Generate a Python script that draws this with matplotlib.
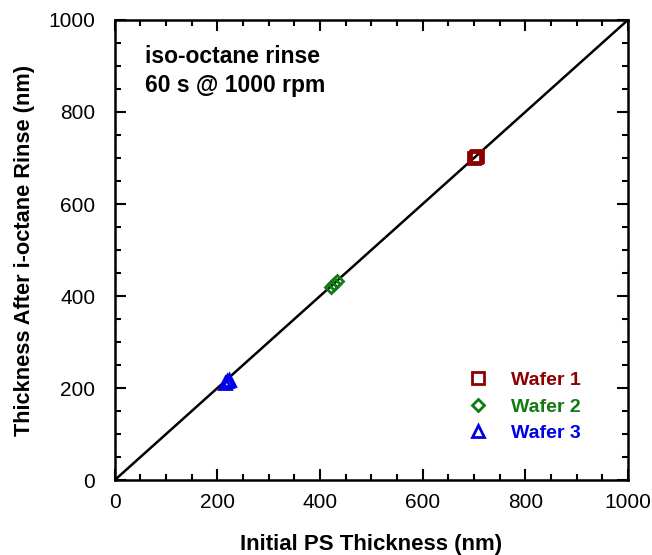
import numpy as np
import matplotlib.pyplot as plt
from matplotlib.ticker import MultipleLocator

plt.rcParams['font.family'] = ['Liberation Sans', 'DejaVu Sans']

# film thickness before / after rinse (nm)
w1_before = [700, 704, 706]
w1_after = [701, 703, 705]
w2_before = [422, 428, 434]
w2_after = [420, 427, 433]
w3_before = [215, 219, 222]
w3_after = [212, 215, 218]

fig = plt.figure(figsize=(6.52, 5.55), dpi=100)
ax = fig.add_axes([0.176, 0.135, 0.787, 0.829])

ax.plot([0, 1000], [0, 1000], color='black', lw=1.8, zorder=1)

ax.plot(w1_before, w1_after, 's', ms=8, mfc='none', mec='#8b0000', mew=2,
        ls='none', label='Wafer 1', zorder=3)
ax.plot(w2_before, w2_after, 'D', ms=6.5, mfc='none', mec='#117a11', mew=2,
        ls='none', label='Wafer 2', zorder=3)
ax.plot(w3_before, w3_after, '^', ms=8, mfc='none', mec='#0000e6', mew=2,
        ls='none', label='Wafer 3', zorder=3)

ax.set_xlim(0, 1000)
ax.set_ylim(0, 1000)
ax.xaxis.set_major_locator(MultipleLocator(200))
ax.yaxis.set_major_locator(MultipleLocator(200))
ax.xaxis.set_minor_locator(MultipleLocator(50))
ax.yaxis.set_minor_locator(MultipleLocator(50))
ax.tick_params(which='both', direction='in', top=True, right=True, width=1.5)
ax.tick_params(which='major', length=8, labelsize=15)
ax.tick_params(axis='x', which='major', pad=9)
ax.tick_params(axis='y', which='major', pad=14)
ax.tick_params(which='minor', length=4.5)
for s in ax.spines.values():
    s.set_linewidth(1.8)

ax.set_xlabel('Initial PS Thickness (nm)', fontsize=16, fontweight='bold', labelpad=16)
ax.set_ylabel('Thickness After i-octane Rinse (nm)', fontsize=15.7, fontweight='bold', labelpad=10)

ax.text(0.058, 0.945, 'iso-octane rinse\n60 s @ 1000 rpm', transform=ax.transAxes,
        fontsize=16.5, fontweight='bold', va='top', ha='left', linespacing=1.3)

leg = ax.legend(loc='lower right', bbox_to_anchor=(0.943, 0.045), frameon=False,
                labelcolor='markeredgecolor', handletextpad=0.7, labelspacing=0.45,
                prop={'size': 14, 'weight': 'bold'})

fig.savefig('out.png', dpi=100)
